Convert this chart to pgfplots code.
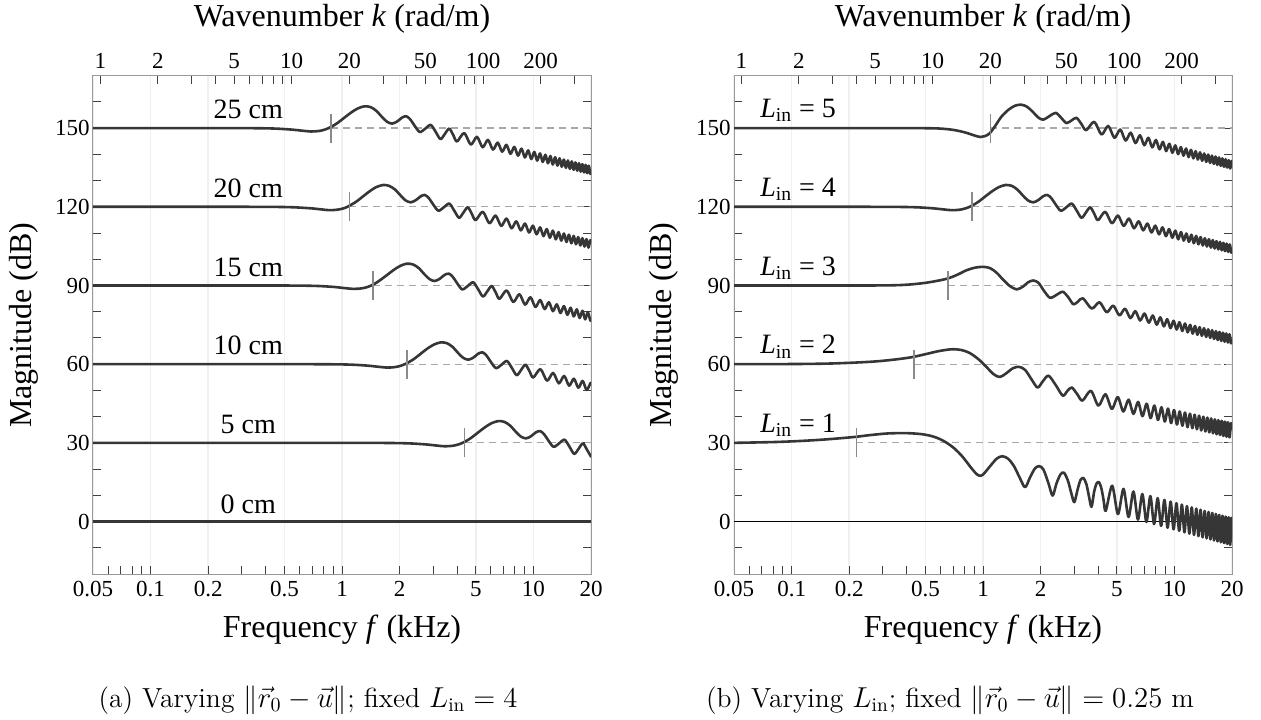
\documentclass[border=0pt]{standalone}
\usepackage{fontspec}
\newfontfamily\tms{Liberation Serif}
\usepackage{pgfplots}
\pgfplotsset{compat=1.18}
\definecolor{curvecol}{HTML}{363636}
\definecolor{markcol}{HTML}{8A8A8A}
\definecolor{dashcol}{HTML}{A8A8A8}
\tikzset{
  crv/.style={color=curvecol, line width=1.3pt, smooth, line join=round},
  mrk/.style={color=markcol, line width=0.8pt},
  dsh/.style={color=dashcol, line width=0.6pt, dash pattern=on 3.5pt off 2.5pt},
}
\newcommand{\lab}{\tms\fontsize{14}{16}\selectfont}
\begin{document}
\begin{tikzpicture}
\useasboundingbox (0,0) rectangle (630.5pt,-359.5pt);

% ---------------- Left panel ----------------
\begin{axis}[at={(46.5pt,-287pt)}, anchor=south west,
    width=249pt, height=249.2pt, scale only axis,
    xmode=log, xmin=0.91591, xmax=366.37, ymin=0, ymax=1,
    hide y axis, xtick pos=upper, xticklabel pos=upper,
    xtick={1,2,5,10,20,50,100,200},
    xticklabels={1,2,5,10,20,50,100,200},
    minor xtick={3,4,6,7,8,9,30,40,60,70,80,90,300},
    tick align=inside,
    major tick length=4pt, minor tick length=4pt,
    axis line style={black!40, line width=0.5pt},
    every tick/.append style={black!75, line width=0.5pt},
    tick label style={font=\tms\fontsize{11.5}{13}\selectfont}]
\addplot[draw=none] coordinates {(1,0.5)};
\end{axis}
\begin{axis}[at={(46.5pt,-287pt)}, anchor=south west,
    width=249pt, height=249.2pt, scale only axis,
    xmode=log, xmin=0.05, xmax=20, ymin=-20, ymax=170,
    xtick={0.05,0.1,0.2,0.5,1,2,5,10,20},
    xticklabels={0.05,0.1,0.2,0.5,1,2,5,10,20},
    minor xtick={0.06,0.07,0.08,0.09,0.3,0.4,0.6,0.7,0.8,0.9,3,4,6,7,8,9},
    ytick={0,30,60,90,120,150},
    yticklabels={0,30,60,90,120,150},
    minor ytick={-20,-10,10,20,40,50,70,80,100,110,130,140,160},
    xtick pos=lower, ytick pos=both,
    tick align=inside,
    major tick length=4pt, minor tick length=4pt,
    axis line style={black!40, line width=0.5pt},
    every tick/.append style={black!75, line width=0.5pt},
    xmajorgrids, major x grid style={black!6, line width=0.8pt},
    tick label style={font=\tms\fontsize{11.5}{13}\selectfont},
    yticklabel style={inner xsep=1.5pt}]
\addplot[dsh] coordinates {(0.873,150) (20,150)};
\addplot[dsh] coordinates {(1.092,120) (20,120)};
\addplot[dsh] coordinates {(1.456,90) (20,90)};
\addplot[dsh] coordinates {(2.184,60) (20,60)};
\addplot[dsh] coordinates {(4.367,30) (20,30)};
% 25 cm
\addplot[crv] coordinates {(0.05,150) (0.2,150) (0.35,149.95) (0.45,149.8) (0.55,149.4) (0.62,149) (0.69,148.7) (0.76,148.9) (0.82,149.5) (0.88,150.5) (0.95,152) (1.03,154) (1.12,156) (1.21,157.5) (1.31,158.3) (1.41,158) (1.51,156.6) (1.62,154.2) (1.72,152.4) (1.83,151.7) (1.95,152.6) (2.06,154) (2.17,154.5) (2.28,153.2) (2.40,150.8) (2.55,148.5) (2.73,149.85) (2.91,151.2) (3.09,148.5) (3.27,145.8) (3.45,147.8) (3.63,149.8) (3.81,147.4) (3.99,144.9) (4.35,148.1) (4.71,143.7) (5.07,146.65) (5.43,142.7) (5.79,145.5) (6.15,141.8) (6.51,144.45) (6.87,141) (7.23,143.6) (7.59,140.2) (7.95,142.8) (8.31,139.5) (8.67,142.15) (9.03,138.8) (9.39,141.5) (9.75,138.2) (10.11,140.9) (10.47,137.6) (10.83,140.35) (11.19,137.1) (11.55,139.8) (11.91,136.6) (12.27,139.35) (12.63,136.1) (12.99,138.9) (13.35,135.7) (13.71,138.45) (14.07,135.25) (14.43,138) (14.79,134.85) (15.15,137.65) (15.51,134.45) (15.87,137.3) (16.23,134.1) (16.59,136.9) (16.95,133.75) (17.31,136.6) (17.67,133.4) (18.03,136.25) (18.39,133.1) (18.75,135.95) (19.11,132.8) (19.47,135.65) (19.83,132.5) (20,133.9)};
% 20 cm
\addplot[crv] coordinates {(0.05,120) (0.25,120) (0.44,119.95) (0.56,119.8) (0.69,119.4) (0.78,119) (0.86,118.7) (0.95,118.9) (1.03,119.5) (1.10,120.5) (1.19,122) (1.29,124) (1.40,126) (1.51,127.5) (1.64,128.3) (1.76,128) (1.89,126.6) (2.03,124.2) (2.15,122.4) (2.29,121.7) (2.44,122.6) (2.58,124) (2.71,124.5) (2.85,123.2) (3.0,120.8) (3.19,118.5) (3.41,119.85) (3.64,121.2) (3.86,118.5) (4.09,115.8) (4.31,117.8) (4.54,119.8) (4.76,117.4) (4.99,114.9) (5.44,118.1) (5.89,113.7) (6.34,116.65) (6.79,112.7) (7.24,115.5) (7.69,111.8) (8.14,114.45) (8.59,111) (9.04,113.6) (9.49,110.2) (9.94,112.8) (10.39,109.5) (10.84,112.15) (11.29,108.8) (11.74,111.5) (12.19,108.2) (12.64,110.9) (13.09,107.6) (13.54,110.35) (13.99,107.1) (14.44,109.8) (14.89,106.6) (15.34,109.35) (15.79,106.1) (16.24,108.9) (16.69,105.7) (17.14,108.45) (17.59,105.25) (18.04,108) (18.49,104.85) (18.94,107.65) (19.39,104.45) (19.84,107.3) (20,106.5)};
% 15 cm
\addplot[crv] coordinates {(0.05,90) (0.33,90) (0.58,89.95) (0.75,89.8) (0.92,89.4) (1.03,89) (1.15,88.7) (1.27,88.9) (1.37,89.5) (1.47,90.5) (1.58,92) (1.72,94) (1.87,96) (2.02,97.5) (2.18,98.3) (2.35,98) (2.52,96.6) (2.70,94.2) (2.87,92.4) (3.05,91.7) (3.25,92.6) (3.43,94) (3.62,94.5) (3.80,93.2) (4.00,90.8) (4.25,88.5) (4.55,89.85) (4.85,91.2) (5.15,88.5) (5.45,85.8) (5.75,87.8) (6.05,89.8) (6.35,87.4) (6.65,84.9) (7.25,88.1) (7.85,83.7) (8.45,86.65) (9.05,82.7) (9.65,85.5) (10.25,81.8) (10.85,84.45) (11.45,81) (12.05,83.6) (12.65,80.2) (13.25,82.8) (13.85,79.5) (14.45,82.15) (15.05,78.8) (15.65,81.5) (16.25,78.2) (16.85,80.9) (17.45,77.6) (18.05,80.35) (18.65,77.1) (19.25,79.8) (19.85,76.6) (20,77.2)};
% 10 cm
\addplot[crv] coordinates {(0.05,60) (0.5,60) (0.88,59.95) (1.13,59.8) (1.38,59.4) (1.55,59) (1.73,58.7) (1.90,58.9) (2.05,59.5) (2.20,60.5) (2.38,62) (2.58,64) (2.80,66) (3.03,67.5) (3.28,68.3) (3.53,68) (3.78,66.6) (4.05,64.2) (4.30,62.4) (4.58,61.7) (4.88,62.6) (5.15,64) (5.43,64.5) (5.70,63.2) (6.00,60.8) (6.38,58.5) (6.83,59.85) (7.28,61.2) (7.73,58.5) (8.18,55.8) (8.63,57.8) (9.08,59.8) (9.53,57.4) (9.98,54.9) (10.88,58.1) (11.78,53.7) (12.68,56.65) (13.58,52.7) (14.48,55.5) (15.38,51.8) (16.28,54.45) (17.18,51) (18.08,53.6) (18.98,50.2) (19.88,52.8) (20,52.6)};
% 5 cm
\addplot[crv] coordinates {(0.05,30) (1.0,30) (1.75,29.95) (2.25,29.8) (2.75,29.4) (3.1,29) (3.45,28.7) (3.8,28.9) (4.1,29.5) (4.4,30.5) (4.75,32) (5.15,34) (5.6,36) (6.05,37.5) (6.55,38.3) (7.05,38) (7.55,36.6) (8.1,34.2) (8.6,32.4) (9.15,31.7) (9.75,32.6) (10.3,34) (10.85,34.5) (11.4,33.2) (12.0,30.8) (12.75,28.5) (13.65,29.85) (14.55,31.2) (15.45,28.5) (16.35,25.8) (17.25,27.8) (18.15,29.8) (19.05,27.4) (19.95,24.9) (20,24.9)};
% 0 cm
\addplot[crv] coordinates {(0.05,0) (20,0)};
% markers
\addplot[mrk] coordinates {(0.873,144.5) (0.873,155.5)};
\addplot[mrk] coordinates {(1.092,114.5) (1.092,125.5)};
\addplot[mrk] coordinates {(1.456,84.5) (1.456,95.5)};
\addplot[mrk] coordinates {(2.184,54.5) (2.184,65.5)};
\addplot[mrk] coordinates {(4.367,24.5) (4.367,35.5)};
\node[font=\lab] at (axis cs:0.324,157.2) {25 cm};
\node[font=\lab] at (axis cs:0.324,127.2) {20 cm};
\node[font=\lab] at (axis cs:0.324,96.9) {15 cm};
\node[font=\lab] at (axis cs:0.324,67) {10 cm};
\node[font=\lab] at (axis cs:0.324,37) {5 cm};
\node[font=\lab] at (axis cs:0.324,6.7) {0 cm};
\end{axis}

% ---------------- Right panel ----------------
\begin{axis}[at={(367pt,-287pt)}, anchor=south west,
    width=249pt, height=249.2pt, scale only axis,
    xmode=log, xmin=0.91591, xmax=366.37, ymin=0, ymax=1,
    hide y axis, xtick pos=upper, xticklabel pos=upper,
    xtick={1,2,5,10,20,50,100,200},
    xticklabels={1,2,5,10,20,50,100,200},
    minor xtick={3,4,6,7,8,9,30,40,60,70,80,90,300},
    tick align=inside,
    major tick length=4pt, minor tick length=4pt,
    axis line style={black!40, line width=0.5pt},
    every tick/.append style={black!75, line width=0.5pt},
    tick label style={font=\tms\fontsize{11.5}{13}\selectfont}]
\addplot[draw=none] coordinates {(1,0.5)};
\end{axis}
\begin{axis}[at={(367pt,-287pt)}, anchor=south west,
    width=249pt, height=249.2pt, scale only axis,
    xmode=log, xmin=0.05, xmax=20, ymin=-20, ymax=170,
    xtick={0.05,0.1,0.2,0.5,1,2,5,10,20},
    xticklabels={0.05,0.1,0.2,0.5,1,2,5,10,20},
    minor xtick={0.06,0.07,0.08,0.09,0.3,0.4,0.6,0.7,0.8,0.9,3,4,6,7,8,9},
    ytick={0,30,60,90,120,150},
    yticklabels={0,30,60,90,120,150},
    minor ytick={-20,-10,10,20,40,50,70,80,100,110,130,140,160},
    xtick pos=lower, ytick pos=both,
    tick align=inside,
    major tick length=4pt, minor tick length=4pt,
    axis line style={black!40, line width=0.5pt},
    every tick/.append style={black!75, line width=0.5pt},
    xmajorgrids, major x grid style={black!6, line width=0.8pt},
    tick label style={font=\tms\fontsize{11.5}{13}\selectfont},
    yticklabel style={inner xsep=1.5pt}]
\addplot[black, line width=0.5pt] coordinates {(0.05,0) (20,0)};
\addplot[dsh] coordinates {(1.092,150) (20,150)};
\addplot[dsh] coordinates {(0.873,120) (20,120)};
\addplot[dsh] coordinates {(0.655,90) (20,90)};
\addplot[dsh] coordinates {(0.437,60) (20,60)};
\addplot[dsh] coordinates {(0.218,30) (20,30)};
% L_in = 5
\addplot[crv] coordinates {(0.05,150) (0.3,150) (0.5,149.95) (0.6,149.8) (0.7,149.3) (0.8,148.4) (0.9,147.2) (0.97,146.6) (1.02,146.9) (1.08,147.9) (1.15,150.5) (1.25,154.4) (1.37,157.2) (1.48,158.6) (1.59,158.9) (1.70,158.1) (1.82,156.2) (1.94,154.1) (2.06,153.2) (2.23,154.6) (2.40,155.8) (2.57,153.8) (2.73,151.9) (2.90,152.9) (3.08,153.9) (3.27,151.5) (3.46,149.2) (3.81,152.4) (4.16,147.55) (4.51,150.8) (4.86,146.3) (5.21,149.45) (5.56,145.25) (5.91,148.25) (6.26,144.3) (6.61,147.25) (6.96,143.45) (7.31,146.3) (7.66,142.65) (8.01,145.45) (8.36,141.9) (8.71,144.75) (9.06,141.25) (9.41,144) (9.76,140.6) (10.11,143.4) (10.46,140.05) (10.81,142.75) (11.16,139.5) (11.51,142.2) (11.86,138.95) (12.21,141.7) (12.56,138.45) (12.91,141.2) (13.26,138) (13.61,140.75) (13.96,137.55) (14.31,140.3) (14.66,137.1) (15.01,139.9) (15.36,136.7) (15.71,139.5) (16.06,136.35) (16.41,139.15) (16.76,135.95) (17.11,138.8) (17.46,135.6) (17.81,138.45) (18.16,135.25) (18.51,138.1) (18.86,134.95) (19.21,137.75) (19.56,134.6) (19.91,137.45) (20,136.5)};
% L_in = 4
\addplot[crv] coordinates {(0.05,120) (0.2,120) (0.35,119.95) (0.45,119.8) (0.55,119.4) (0.62,119) (0.69,118.7) (0.76,118.9) (0.82,119.5) (0.88,120.5) (0.95,122) (1.03,124) (1.12,126) (1.21,127.5) (1.31,128.3) (1.41,128) (1.51,126.6) (1.62,124.2) (1.72,122.4) (1.83,121.7) (1.95,122.6) (2.06,124) (2.17,124.5) (2.28,123.2) (2.40,120.8) (2.55,118.5) (2.73,119.85) (2.91,121.2) (3.09,118.5) (3.27,115.8) (3.45,117.8) (3.63,119.8) (3.81,117.4) (3.99,114.9) (4.35,118.1) (4.71,113.7) (5.07,116.65) (5.43,112.7) (5.79,115.5) (6.15,111.8) (6.51,114.45) (6.87,111) (7.23,113.6) (7.59,110.2) (7.95,112.8) (8.31,109.5) (8.67,112.15) (9.03,108.8) (9.39,111.5) (9.75,108.2) (10.11,110.9) (10.47,107.6) (10.83,110.35) (11.19,107.1) (11.55,109.8) (11.91,106.6) (12.27,109.35) (12.63,106.1) (12.99,108.9) (13.35,105.7) (13.71,108.45) (14.07,105.25) (14.43,108) (14.79,104.85) (15.15,107.65) (15.51,104.45) (15.87,107.3) (16.23,104.1) (16.59,106.9) (16.95,103.75) (17.31,106.6) (17.67,103.4) (18.03,106.25) (18.39,103.1) (18.75,105.95) (19.11,102.8) (19.47,105.65) (19.83,102.5) (20,103.9)};
% L_in = 3
\addplot[crv] coordinates {(0.05,90) (0.25,90) (0.35,90.1) (0.42,90.4) (0.5,91) (0.57,91.7) (0.65,92.6) (0.73,94) (0.82,95.8) (0.91,96.8) (1.0,97.1) (1.09,96.6) (1.18,94.8) (1.27,92.3) (1.38,89.8) (1.50,88.5) (1.62,89.6) (1.72,91.2) (1.83,91.9) (1.95,91) (2.09,87.8) (2.24,85.3) (2.42,86.4) (2.61,87.6) (2.79,85.5) (2.97,82.8) (3.15,84) (3.33,85.1) (3.70,81.2) (4.06,83.6) (4.43,79.8) (4.79,82.3) (5.16,78.6) (5.52,81.15) (5.89,77.55) (6.25,80.2) (6.62,76.65) (6.98,79.3) (7.35,75.8) (7.71,78.55) (8.08,75.05) (8.44,77.85) (8.81,74.4) (9.17,77.15) (9.54,73.75) (9.90,76.55) (10.27,73.2) (10.63,76) (11.0,72.65) (11.36,75.5) (11.73,72.15) (12.09,75) (12.46,71.65) (12.82,74.55) (13.19,71.2) (13.55,74.1) (13.92,70.8) (14.28,73.7) (14.65,70.4) (15.01,73.3) (15.38,70) (15.74,72.95) (16.11,69.6) (16.47,72.6) (16.84,69.2) (17.20,72.3) (17.57,68.85) (17.93,72) (18.30,68.55) (18.66,71.7) (19.03,68.25) (19.39,71.4) (19.76,67.95) (20,69.6)};
% L_in = 2
\addplot[crv] coordinates {(0.05,60) (0.1,60.05) (0.15,60.2) (0.2,60.5) (0.27,61) (0.34,61.7) (0.42,62.6) (0.5,63.8) (0.58,64.9) (0.65,65.5) (0.70,65.7) (0.77,65.4) (0.85,64.3) (0.95,61.8) (1.05,58.7) (1.13,56.3) (1.22,55.1) (1.31,56.3) (1.43,58.4) (1.54,59) (1.66,57.8) (1.80,54) (1.93,51.1) (2.06,53.6) (2.20,55.6) (2.40,52) (2.61,48) (2.76,49.8) (2.91,51.1) (3.11,48.5) (3.31,46.1) (3.66,49.85) (4.01,44.2) (4.36,48.55) (4.71,42.95) (5.06,47.45) (5.41,41.95) (5.76,46.45) (6.11,41.05) (6.46,45.6) (6.81,40.2) (7.16,44.9) (7.51,39.45) (7.86,44.2) (8.21,38.75) (8.56,43.55) (8.91,38.15) (9.26,43.05) (9.61,37.55) (9.96,42.5) (10.31,37) (10.66,41.95) (11.01,36.55) (11.36,41.55) (11.71,36) (12.06,41.1) (12.41,35.6) (12.76,40.7) (13.11,35.2) (13.46,40.35) (13.81,34.75) (14.16,39.95) (14.51,34.35) (14.86,39.6) (15.21,34) (15.56,39.3) (15.91,33.65) (16.26,38.95) (16.61,33.3) (16.96,38.65) (17.31,33) (17.66,38.4) (18.01,32.65) (18.36,38.1) (18.71,32.35) (19.06,37.85) (19.41,32.1) (19.76,37.55) (20,35)};
% L_in = 1
\addplot[crv] coordinates {(0.05,30) (0.08,30.3) (0.11,30.7) (0.15,31.3) (0.21,32.2) (0.26,33) (0.32,33.6) (0.4,33.7) (0.48,33.3) (0.55,32.4) (0.62,30.8) (0.70,28.2) (0.78,24.8) (0.86,20.8) (0.92,18.3) (0.957,17.5) (1.0,17.9) (1.1,21.5) (1.18,24) (1.26,24.9) (1.35,24) (1.45,21.2) (1.56,16.5) (1.66,13.1) (1.76,16.8) (1.87,20.3) (1.97,21.1) (2.07,19.8) (2.20,14.5) (2.31,9.9) (2.42,14.5) (2.54,18) (2.65,18.6) (2.78,15.5) (2.90,10.5) (3.0,7.4) (3.12,12.2) (3.23,15.8) (3.35,16.6) (3.47,14.2) (3.58,9.5) (3.69,5.6) (3.81,11.5) (3.92,14.5) (4.04,15) (4.16,12.5) (4.27,8) (4.38,4.1) (4.73,13.65) (5.07,2.85) (5.42,12.45) (5.76,1.75) (6.11,11.45) (6.45,0.75) (6.80,10.5) (7.14,-0.15) (7.49,9.7) (7.83,-0.95) (8.18,8.9) (8.52,-1.65) (8.87,8.25) (9.21,-2.35) (9.56,7.6) (9.90,-2.95) (10.25,7) (10.59,-3.55) (10.94,6.45) (11.28,-4.1) (11.63,5.9) (11.97,-4.6) (12.32,5.4) (12.66,-5.1) (13.01,4.95) (13.35,-5.55) (13.70,4.5) (14.04,-6) (14.39,4.05) (14.73,-6.4) (15.08,3.65) (15.42,-6.8) (15.77,3.3) (16.11,-7.2) (16.46,2.9) (16.80,-7.55) (17.15,2.55) (17.49,-7.9) (17.84,2.2) (18.18,-8.25) (18.53,1.9) (18.87,-8.55) (19.22,1.6) (19.56,-8.9) (19.91,1.3) (20,-1)};
% markers
\addplot[mrk] coordinates {(1.092,144.5) (1.092,155.5)};
\addplot[mrk] coordinates {(0.873,114.5) (0.873,125.5)};
\addplot[mrk] coordinates {(0.655,84.5) (0.655,95.5)};
\addplot[mrk] coordinates {(0.437,54.5) (0.437,65.5)};
\addplot[mrk] coordinates {(0.218,24.5) (0.218,35.5)};
\node[font=\lab, anchor=west] at (axis cs:0.063,156.7) {{\itshape L}\textsubscript{in} = 5};
\node[font=\lab, anchor=west] at (axis cs:0.063,126.7) {{\itshape L}\textsubscript{in} = 4};
\node[font=\lab, anchor=west] at (axis cs:0.063,96.7) {{\itshape L}\textsubscript{in} = 3};
\node[font=\lab, anchor=west] at (axis cs:0.063,66.7) {{\itshape L}\textsubscript{in} = 2};
\node[font=\lab, anchor=west] at (axis cs:0.063,36.7) {{\itshape L}\textsubscript{in} = 1};
\end{axis}

% ---------------- Axis titles and captions ----------------
\begin{scope}[every node/.style={font=\tms\fontsize{16}{19}\selectfont}]
\node at (171pt,-9.5pt) {Wavenumber \textit{k} (rad/m)};
\node at (491.5pt,-9.5pt) {Wavenumber \textit{k} (rad/m)};
\node at (171pt,-315pt) {Frequency \textit{f} (kHz)};
\node at (491.5pt,-315pt) {Frequency \textit{f} (kHz)};
\node[rotate=90] at (12pt,-162.5pt) {Magnitude (dB)};
\node[rotate=90] at (332pt,-162.5pt) {Magnitude (dB)};
\end{scope}
\node[font=\fontsize{13.8}{16}\selectfont] at (154pt,-350pt) {(a) Varying $\|\vec{r}_0-\vec{u}\|$; fixed $L_{\mathrm{in}}=4$};
\node[font=\fontsize{13.8}{16}\selectfont] at (475pt,-350pt) {(b) Varying $L_{\mathrm{in}}$; fixed $\|\vec{r}_0-\vec{u}\|=0.25$ m};
\end{tikzpicture}
\end{document}
